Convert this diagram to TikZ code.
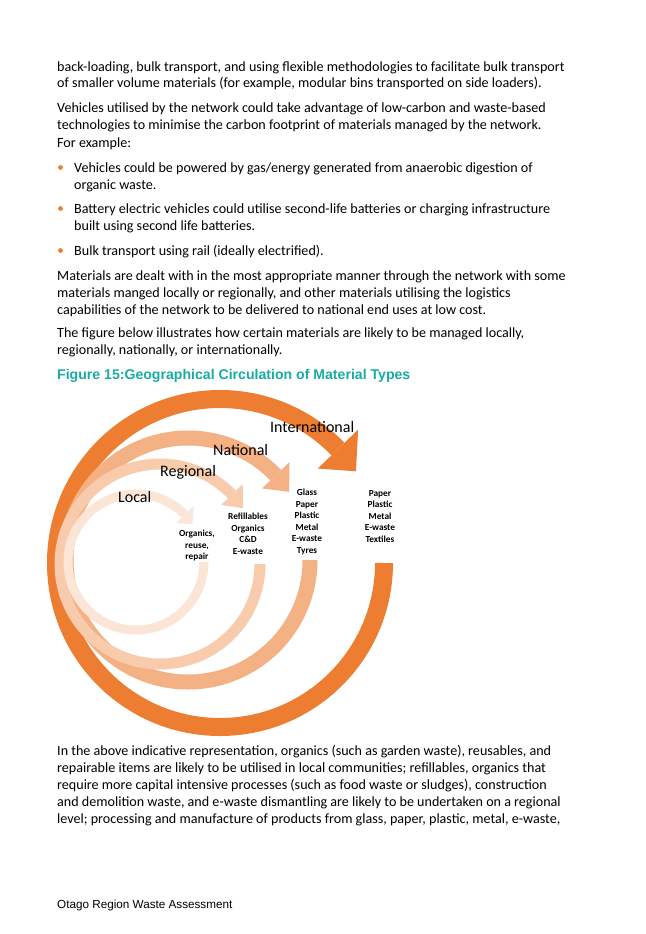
\documentclass[tikz,border=0pt]{standalone}
\usepackage{fontspec}
\setmainfont{Carlito}
\newfontfamily\arial{Liberation Sans}
\usetikzlibrary{calc}
\definecolor{cIntl}{HTML}{ED7D31}
\definecolor{cNat}{HTML}{F4B183}
\definecolor{cReg}{HTML}{F8CBAD}
\definecolor{cLoc}{HTML}{FBE5D6}
\definecolor{teal}{RGB}{24,172,162}
\definecolor{bul}{HTML}{ED7D31}
\tikzset{
 body/.style={anchor=base west,inner sep=0pt,font=\fontsize{14.1}{17}\selectfont},
 lev/.style={anchor=base west,inner sep=0pt,font=\fontsize{16}{18}\selectfont},
 lst/.style={anchor=north,inner sep=0pt,align=center,font=\fontsize{9.3}{11.5}\selectfont\bfseries},
}
\newcommand{\ring}[7]{% cx cy r w h color name
 \draw[line width=#4,#6] (#1+#3,#2) arc[start angle=0,end angle=316,radius=#3];
 \fill[#6,shift={(#1,#2)}] (316:#3+#5) -- (326:#3) -- (316:#3-#5) -- cycle;
 \coordinate (#7) at (#1,#2);}
\begin{document}
\begin{tikzpicture}[x=1pt,y=-1pt]
\useasboundingbox[fill=white] (0,0) rectangle (645,934);
\node[body] (p1) at (57,71) {back-loading, bulk transport, and using flexible methodologies to facilitate bulk transport};
\node[body] (p2) at (57,88) {of smaller volume materials (for example, modular bins transported on side loaders).};
\node[body] (p3) at (57,112) {Vehicles utilised by the network could take advantage of low-carbon and waste-based};
\node[body] (p4) at (57,129) {technologies to minimise the carbon footprint of materials managed by the network.};
\node[body] (p5) at (57,147) {For example:};
\node[body] (b1) at (74,172) {Vehicles could be powered by gas/energy generated from anaerobic digestion of};
\node[body] (b1b) at (74,189) {organic waste.};
\node[body] (b2) at (74,213) {Battery electric vehicles could utilise second-life batteries or charging infrastructure};
\node[body] (b2b) at (74,230) {built using second life batteries.};
\node[body] (b3) at (74,255) {Bulk transport using rail (ideally electrified).};
\foreach \yy in {167.5,208.5,250.5} \fill[bul] (60.5,\yy) circle (2.4);
\node[body] (m1) at (57,280) {Materials are dealt with in the most appropriate manner through the network with some};
\node[body] (m2) at (57,297) {materials manged locally or regionally, and other materials utilising the logistics};
\node[body] (m3) at (57,314) {capabilities of the network to be delivered to national end uses at low cost.};
\node[body] (f1) at (57,337) {The figure below illustrates how certain materials are likely to be managed locally,};
\node[body] (f2) at (57,354) {regionally, nationally, or internationally.};
\node[anchor=base west,inner sep=0pt,text=teal,font=\arial\bfseries\fontsize{14.1}{16}\selectfont] (hd) at (57,379) {Figure 15:Geographical Circulation of Material Types};
% rings
\ring{220}{563}{164}{18}{28}{cIntl}{ci}
\ring{188}{560}{122}{15}{19}{cNat}{cn}
\ring{160}{564}{100}{11}{15}{cReg}{cr}
\ring{136}{562}{68}{9}{12}{cLoc}{cl}
\node[lev] (li) at (270,432) {International};
\node[lev] (ln) at (213,455) {National};
\node[lev] (lr) at (160,476) {Regional};
\node[lev] (ll) at (118,502) {Local};
\node[lst] (tl) at (197,530) {Organics,\\reuse,\\repair};
\node[lst] (tr) at (248,513) {Refillables\\Organics\\C\&D\\E-waste};
\node[lst] (tn) at (307,489) {Glass\\Paper\\Plastic\\Metal\\E-waste\\Tyres};
\node[lst] (ti) at (380,490) {Paper\\Plastic\\Metal\\E-waste\\Textiles};
\node[body] (e1) at (57,755) {In the above indicative representation, organics (such as garden waste), reusables, and};
\node[body] (e2) at (57,772) {repairable items are likely to be utilised in local communities; refillables, organics that};
\node[body] (e3) at (57,789) {require more capital intensive processes (such as food waste or sludges), construction};
\node[body] (e4) at (57,806) {and demolition waste, and e-waste dismantling are likely to be undertaken on a regional};
\node[body] (e5) at (57,823) {level; processing and manufacture of products from glass, paper, plastic, metal, e-waste,};
\node[anchor=base west,inner sep=0pt,font=\arial\fontsize{11.7}{13}\selectfont] (ft) at (57,908) {Otago Region Waste Assessment};
\end{tikzpicture}
\end{document}
